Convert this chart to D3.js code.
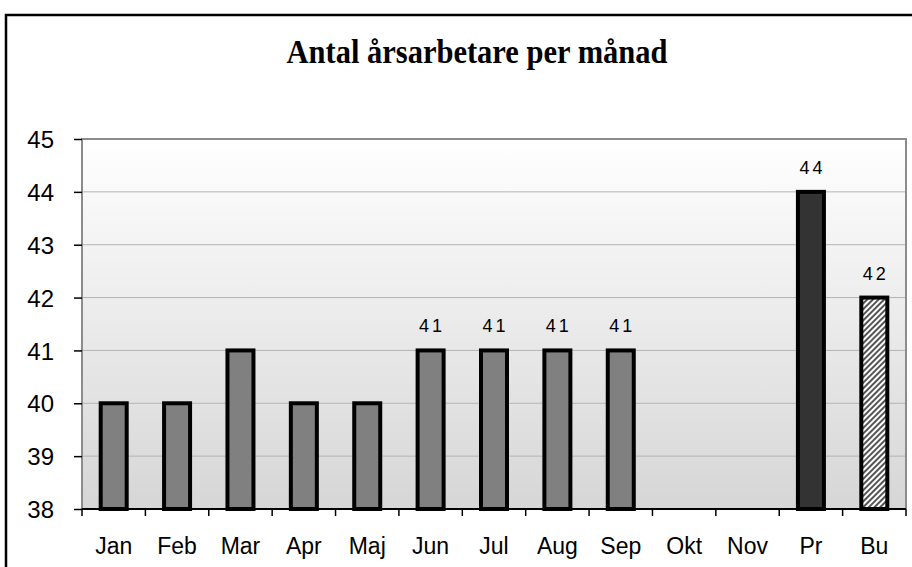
<!DOCTYPE html>
<html><head><meta charset="utf-8">
<script src="https://cdn.jsdelivr.net/npm/d3@7"></script>
<style>body{margin:0;background:#fff}svg{display:block}</style>
</head><body>
<script>
const categories = ["Jan","Feb","Mar","Apr","Maj","Jun","Jul","Aug","Sep","Okt","Nov","Pr","Bu"];
const values = [40,40,41,40,40,41,41,41,41,null,null,44,42];
const labelled = [false,false,false,false,false,true,true,true,true,false,false,true,true];
const kinds = ["n","n","n","n","n","n","n","n","n","n","n","p","b"];
const yTicks = [38,39,40,41,42,43,44,45];
const title = "Antal årsarbetare per månad";

const W=912,H=567;
const svg=d3.select("body").append("svg").attr("width",W).attr("height",H);
const defs=svg.append("defs");
const g=defs.append("linearGradient").attr("id","bg").attr("x1",0).attr("y1",0).attr("x2",0).attr("y2",1);
g.append("stop").attr("offset","0%").attr("stop-color","#ffffff");
g.append("stop").attr("offset","100%").attr("stop-color","#d6d6d6");
const pat=defs.append("pattern").attr("id","hatch").attr("patternUnits","userSpaceOnUse").attr("width",4).attr("height",4).attr("patternTransform","rotate(45)");
pat.append("rect").attr("width",4).attr("height",4).attr("fill","#ffffff");
pat.append("rect").attr("width",2).attr("height",4).attr("fill","#555");

// outer frame
svg.append("rect").attr("x",6).attr("y",15).attr("width",W+10).attr("height",H+10).attr("fill","none").attr("stroke","#000").attr("stroke-width",2.5);

const L=82,R=906,T=139,B=509;
const x=d3.scaleBand().domain(categories).range([L,R]);
const y=d3.scaleLinear().domain([38,45]).range([B,T]);

svg.append("rect").attr("x",L).attr("y",T).attr("width",R-L).attr("height",B-T).attr("fill","url(#bg)");
// gridlines
svg.append("g").selectAll("line").data(yTicks.filter(d=>d>38&&d<45)).join("line")
 .attr("x1",L).attr("x2",R).attr("y1",d=>y(d)).attr("y2",d=>y(d)).attr("stroke","#b4b4b4").attr("stroke-width",1);
// plot border (grey)
svg.append("path").attr("d",`M${L},${B}V${T}H${R}V${B}`).attr("fill","none").attr("stroke","#8c8c8c").attr("stroke-width",2);

// y axis
const ya=svg.append("g").attr("transform",`translate(${L},0)`).call(d3.axisLeft(y).tickValues(yTicks).tickSize(8).tickPadding(0).tickFormat(d3.format("d")));
ya.select(".domain").remove();
ya.selectAll("line").attr("stroke","#000").attr("stroke-width",1.5);
ya.selectAll("text").attr("x",-28).attr("dy","0.36em").attr("font-family","Arial, 'Liberation Sans', sans-serif").attr("font-size",24).attr("fill","#000");

// bars
svg.append("g").selectAll("rect").data(categories.map((c,i)=>({c,v:values[i],k:kinds[i]})).filter(d=>d.v!=null)).join("rect")
 .attr("x",d=>x(d.c)+x.bandwidth()/2-13).attr("width",26)
 .attr("y",d=>y(d.v)).attr("height",d=>B-y(d.v))
 .attr("fill",d=>d.k==="p"?"#333333":d.k==="b"?"url(#hatch)":"#808080")
 .attr("stroke","#000").attr("stroke-width",4);

// x axis
svg.append("line").attr("x1",L).attr("x2",R).attr("y1",B).attr("y2",B).attr("stroke","#000").attr("stroke-width",2);
const bounds=categories.map(c=>x(c)).concat([R]);
svg.append("g").selectAll("line").data(bounds).join("line")
 .attr("x1",d=>d).attr("x2",d=>d).attr("y1",B).attr("y2",B+7).attr("stroke","#000").attr("stroke-width",1.5);
svg.append("g").selectAll("text").data(categories).join("text")
 .attr("x",d=>x(d)+x.bandwidth()/2).attr("y",554).attr("text-anchor","middle")
 .attr("font-family","Arial, 'Liberation Sans', sans-serif").attr("font-size",23).text(d=>d);

// data labels
svg.append("g").selectAll("text").data(categories.map((c,i)=>({c,v:values[i],l:labelled[i]})).filter(d=>d.l&&d.v!=null)).join("text")
 .attr("x",d=>x(d.c)+x.bandwidth()/2+1.5).attr("y",d=>y(d.v)-18).attr("text-anchor","middle")
 .attr("font-family","Arial, 'Liberation Sans', sans-serif").attr("font-size",18).attr("letter-spacing",3).text(d=>d.v);

// title
svg.append("text").attr("x",477).attr("y",63).attr("text-anchor","middle")
 .attr("font-family","'Liberation Serif', 'Times New Roman', serif").attr("font-weight","bold").attr("font-size",33)
 .attr("textLength",381).attr("lengthAdjust","spacingAndGlyphs").text(title);
</script>
</body></html>
